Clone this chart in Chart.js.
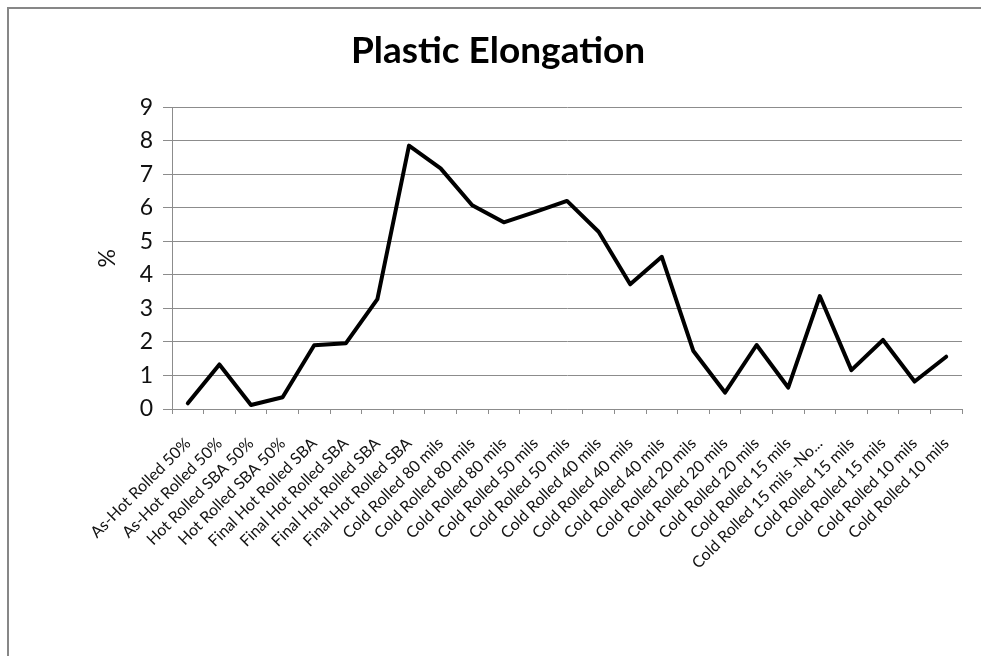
<!DOCTYPE html>
<html>
<head>
<meta charset="utf-8">
<script src="https://cdn.jsdelivr.net/npm/chart.js@4/dist/chart.umd.min.js"></script>
<style>
  html, body { margin: 0; padding: 0; background: #fff; }
  #wrap { position: relative; width: 981px; height: 656px; overflow: hidden; }
  #frame { position: absolute; left: 7px; top: 7px; width: 1000px; height: 700px;
           border-left: 2px solid #878787; border-top: 2px solid #878787; }
  #c { position: absolute; left: 0; top: 0; }
</style>
</head>
<body>
<div id="wrap">
  <div id="frame"></div>
  <canvas id="c" width="981" height="656"></canvas>
</div>
<script>
// Sample conditions along the x axis
const categories = [
  "As-Hot Rolled 50%", "As-Hot Rolled 50%",
  "Hot Rolled SBA 50%", "Hot Rolled SBA 50%",
  "Final Hot Rolled SBA", "Final Hot Rolled SBA", "Final Hot Rolled SBA", "Final Hot Rolled SBA",
  "Cold Rolled 80 mils", "Cold Rolled 80 mils", "Cold Rolled 80 mils",
  "Cold Rolled 50 mils", "Cold Rolled 50 mils",
  "Cold Rolled 40 mils", "Cold Rolled 40 mils", "Cold Rolled 40 mils",
  "Cold Rolled 20 mils", "Cold Rolled 20 mils", "Cold Rolled 20 mils",
  "Cold Rolled 15 mils", "Cold Rolled 15 mils -No...", "Cold Rolled 15 mils", "Cold Rolled 15 mils",
  "Cold Rolled 10 mils", "Cold Rolled 10 mils"
];

// Plastic elongation, %
const elongation = [
  0.17, 1.33, 0.12, 0.35, 1.90, 1.96, 3.28, 7.86,
  7.18, 6.08, 5.57, 5.88, 6.21, 5.29, 3.72, 4.54,
  1.73, 0.49, 1.91, 0.64, 3.37, 1.16, 2.06, 0.82, 1.56
];

const yTicks = [0, 1, 2, 3, 4, 5, 6, 7, 8, 9];

const FONT = "Lato, 'Open Sans', sans-serif";
const GRID = "#8c8c8c";

new Chart(document.getElementById("c"), {
  type: "line",
  data: {
    labels: categories,
    datasets: [{
      label: "Plastic Elongation",
      data: elongation,
      borderColor: "#000",
      borderWidth: 4,
      pointRadius: 0,
      tension: 0,
      borderJoinStyle: "round",
      borderCapStyle: "round"
    }]
  },
  options: {
    responsive: false,
    animation: false,
    layout: { padding: { left: 34, right: 19, top: 0, bottom: 0 } },
    plugins: {
      legend: { display: false },
      tooltip: { enabled: false },
      title: {
        display: true,
        text: "Plastic Elongation",
        color: "#000",
        font: { family: FONT, size: 37, weight: "bold", lineHeight: 1.2 },
        padding: { top: 29, bottom: 34 }
      }
    },
    scales: {
      x: {
        offset: true,
        afterFit(scale) { scale.height = 247; },
        grid: {
          offset: true,
          drawOnChartArea: false,
          drawTicks: true,
          tickLength: 5,
          color: GRID
        },
        border: { color: GRID, width: 1 },
        ticks: {
          autoSkip: false,
          maxRotation: 45,
          minRotation: 45,
          padding: 20,
          color: "#111",
          font: { family: FONT, size: 16 }
        }
      },
      y: {
        min: 0,
        max: 9,
        afterFit(scale) { scale.width = 138; },
        afterBuildTicks(scale) { scale.ticks = yTicks.map(v => ({ value: v })); },
        grid: { color: GRID, tickLength: 9, lineWidth: 1 },
        border: { color: GRID, width: 1 },
        ticks: {
          padding: 10,
          color: "#111",
          font: { family: FONT, size: 23 }
        },
        title: {
          display: true,
          text: "%",
          color: "#111",
          padding: { top: 60, bottom: 0 },
          font: { family: FONT, size: 23 }
        }
      }
    }
  }
});
</script>
</body>
</html>
